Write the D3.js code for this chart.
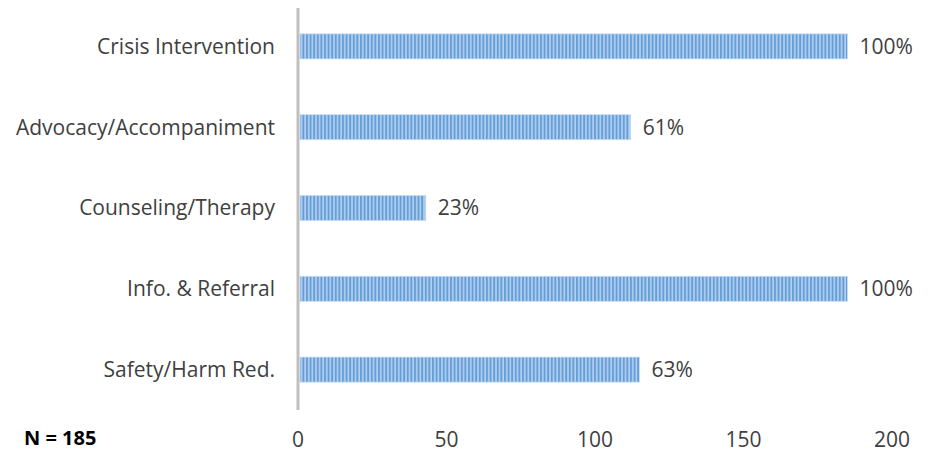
<!DOCTYPE html>
<html><head><meta charset="utf-8">
<script src="https://cdn.jsdelivr.net/npm/d3@7"></script>
<style>body{margin:0;background:#fff}svg{display:block}</style>
</head><body><svg id="c" width="930" height="453"></svg>
<script>
const categories = ["Crisis Intervention","Advocacy/Accompaniment","Counseling/Therapy","Info. & Referral","Safety/Harm Red."];
const values = [185, 112, 43, 185, 115];
const labels = ["100%","61%","23%","100%","63%"];
const ticks = [0,50,100,150,200];
const note = "N = 185";

const svg = d3.select("#c");
const x = d3.scaleLinear().domain([0,200]).range([298,892]);
const y = d3.scaleBand().domain(categories).range([6,410]).paddingInner(0.69).paddingOuter(0.345);

const defs = svg.append("defs");
const pat = defs.append("pattern").attr("id","stripe").attr("patternUnits","userSpaceOnUse")
  .attr("width",3.6).attr("height",10);
pat.append("rect").attr("width",3.6).attr("height",10).attr("fill","#b6d1ef");
pat.append("rect").attr("width",2).attr("height",10).attr("fill","#659fd9");

const font = "'Open Sans', sans-serif";
const fs = 21;

svg.selectAll("rect.bar").data(values).enter().append("rect")
  .attr("x", x(0)+2).attr("y",(d,i)=>y(categories[i]))
  .attr("width", d=>x(d)-x(0)-2).attr("height", y.bandwidth())
  .attr("fill","url(#stripe)").attr("stroke","#c9dcf2").attr("stroke-width",0.8);

svg.append("line").attr("x1",x(0)).attr("x2",x(0)).attr("y1",8).attr("y2",410)
  .attr("stroke","#bfbfbf").attr("stroke-width",3);

svg.selectAll("text.cat").data(categories).enter().append("text")
  .attr("x",275).attr("y",d=>y(d)+y.bandwidth()/2).attr("dy","0.35em")
  .attr("text-anchor","end").attr("font-family",font).attr("font-size",fs)
  .attr("fill","#404040").text(d=>d);

svg.selectAll("text.val").data(values).enter().append("text")
  .attr("x",d=>x(d)+12).attr("y",(d,i)=>y(categories[i])+y.bandwidth()/2).attr("dy","0.35em")
  .attr("font-family",font).attr("font-size",fs).attr("fill","#404040")
  .text((d,i)=>labels[i]);

svg.selectAll("text.tick").data(ticks).enter().append("text")
  .attr("x",d=>x(d)).attr("y",440).attr("dy","0.35em").attr("text-anchor","middle")
  .attr("font-family",font).attr("font-size",fs).attr("fill","#404040").text(d=>d);

svg.append("text").attr("x",24).attr("y",438).attr("dy","0.35em")
  .attr("font-family",font).attr("font-size",20).attr("font-weight","bold")
  .attr("fill","#000").text(note);
</script></body></html>
